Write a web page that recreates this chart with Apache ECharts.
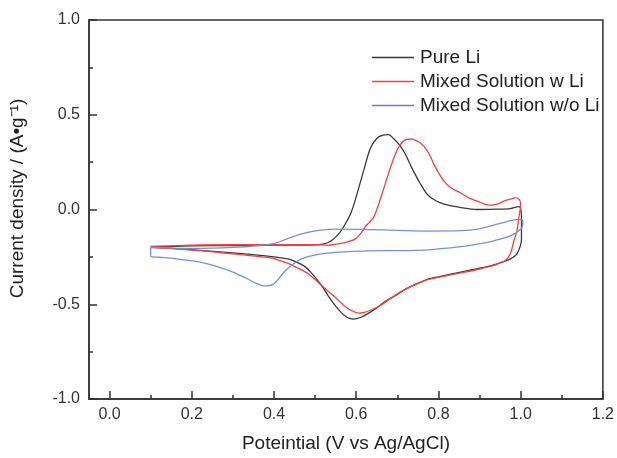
<!DOCTYPE html>
<html>
<head>
<meta charset="UTF-8">
<title>CV curves</title>
<script src="https://cdn.jsdelivr.net/npm/echarts@6/dist/echarts.min.js"></script>
<style>
  html, body { margin: 0; padding: 0; background: #fff; }
  #main { width: 617px; height: 458px; }
</style>
</head>
<body>
<div id="main"></div>
<script>
// tick positions
var xTicks = [0, 0.2, 0.4, 0.6, 0.8, 1.0, 1.2];
var xMinorTicks = [0.1, 0.3, 0.5, 0.7, 0.9, 1.1];

// Pure Li loop
var pureX = [0.10, 0.20, 0.30, 0.40, 0.45, 0.50, 0.533, 0.557, 0.573, 0.589, 0.606, 0.62, 0.634, 0.65, 0.665, 0.678, 0.692, 0.706, 0.72, 0.734, 0.755, 0.774, 0.795, 0.814, 0.85, 0.895, 0.94, 0.975, 0.995, 1.0,
  1.002, 1.002, 0.998, 0.991, 0.98, 0.967, 0.935, 0.90, 0.854, 0.80, 0.774, 0.75, 0.72, 0.695, 0.67, 0.65, 0.63, 0.61, 0.593, 0.578, 0.565, 0.55, 0.533, 0.52, 0.509, 0.493, 0.477, 0.455, 0.437, 0.39, 0.30, 0.22, 0.15, 0.10];
var pureY = [-0.198, -0.192, -0.19, -0.188, -0.188, -0.187, -0.173, -0.13, -0.078, -0.008, 0.113, 0.22, 0.321, 0.375, 0.392, 0.395, 0.372, 0.338, 0.29, 0.225, 0.14, 0.077, 0.045, 0.029, 0.012, 0.0, 0.002, 0.005, 0.015, 0.005,
  -0.05, -0.16, -0.2, -0.234, -0.255, -0.269, -0.292, -0.31, -0.33, -0.355, -0.367, -0.39, -0.42, -0.455, -0.486, -0.52, -0.547, -0.57, -0.578, -0.57, -0.547, -0.51, -0.46, -0.415, -0.382, -0.34, -0.304, -0.278, -0.262, -0.247, -0.229, -0.216, -0.205, -0.198];

// Mixed Solution w Li loop
var withLiX = [0.10, 0.20, 0.30, 0.40, 0.50, 0.533, 0.56, 0.581, 0.598, 0.613, 0.622, 0.632, 0.642, 0.655, 0.666, 0.68, 0.694, 0.706, 0.722, 0.735, 0.742, 0.755, 0.766, 0.778, 0.79, 0.80, 0.814, 0.83, 0.854, 0.875, 0.895, 0.91, 0.927, 0.945, 0.959, 0.975, 0.987, 0.997, 1.0,
  0.995, 0.991, 0.983, 0.975, 0.963, 0.95, 0.935, 0.90, 0.854, 0.80, 0.774, 0.75, 0.72, 0.70, 0.678, 0.658, 0.638, 0.62, 0.606, 0.59, 0.573, 0.555, 0.533, 0.513, 0.493, 0.473, 0.453, 0.433, 0.413, 0.398, 0.37, 0.34, 0.30, 0.26, 0.22, 0.18, 0.14, 0.10];
var withLiY = [-0.195, -0.188, -0.186, -0.186, -0.186, -0.188, -0.18, -0.17, -0.155, -0.121, -0.09, -0.068, -0.043, 0.03, 0.104, 0.2, 0.286, 0.339, 0.37, 0.372, 0.367, 0.352, 0.33, 0.29, 0.234, 0.195, 0.148, 0.115, 0.087, 0.06, 0.044, 0.03, 0.023, 0.03, 0.044, 0.055, 0.061, 0.052, 0.026,
  -0.05, -0.113, -0.17, -0.234, -0.269, -0.282, -0.295, -0.314, -0.335, -0.358, -0.37, -0.39, -0.42, -0.445, -0.477, -0.508, -0.529, -0.543, -0.547, -0.535, -0.512, -0.475, -0.434, -0.395, -0.356, -0.325, -0.304, -0.283, -0.269, -0.258, -0.25, -0.243, -0.234, -0.225, -0.217, -0.21, -0.205, -0.2];

// Mixed Solution w/o Li loop
var withoutLiX = [0.10, 0.15, 0.20, 0.30, 0.365, 0.398, 0.42, 0.45, 0.48, 0.51, 0.55, 0.63, 0.70, 0.774, 0.854, 0.895, 0.935, 0.965, 0.991, 1.005, 1.005, 1.0,
  0.975, 0.935, 0.895, 0.854, 0.774, 0.70, 0.63, 0.549, 0.52, 0.493, 0.47, 0.453, 0.437, 0.421, 0.41, 0.398, 0.381, 0.37, 0.357, 0.33, 0.30, 0.26, 0.22, 0.16, 0.12, 0.10, 0.10];
var withoutLiY = [-0.2, -0.203, -0.205, -0.2, -0.19, -0.18, -0.165, -0.14, -0.122, -0.11, -0.104, -0.106, -0.11, -0.114, -0.112, -0.104, -0.082, -0.065, -0.052, -0.058, -0.08, -0.104,
  -0.139, -0.165, -0.183, -0.196, -0.213, -0.217, -0.218, -0.226, -0.233, -0.243, -0.258, -0.278, -0.305, -0.339, -0.37, -0.395, -0.403, -0.4, -0.39, -0.36, -0.33, -0.3, -0.278, -0.26, -0.252, -0.248, -0.2];

function pairs(xs, ys) {
  var out = [];
  for (var i = 0; i < xs.length; i++) out.push([xs[i], ys[i]]);
  return out;
}

var axisColor = '#333';
var labelFont = 'Liberation Sans, Arial, sans-serif';

var myChart = echarts.init(document.getElementById('main'));
var option = {
  animation: false,
  textStyle: { fontFamily: labelFont },
  grid: {
    left: 88, right: 11, top: 20, bottom: 54,
    show: true, borderColor: axisColor, borderWidth: 1.5
  },
  legend: {
    orient: 'vertical',
    left: 372, top: 48,
    padding: 0,
    icon: 'rect',
    itemWidth: 42, itemHeight: 1.3, itemGap: 5,
    textStyle: { fontSize: 19, lineHeight: 19, color: '#222', padding: [0, 0, 0, 1] },
    data: [
      { name: 'Pure Li' },
      { name: 'Mixed Solution w Li' },
      { name: 'Mixed Solution w/o Li', itemStyle: { color: '#6f70ee' } }
    ]
  },
  xAxis: [{
    type: 'value', min: -0.05, max: 1.2,
    name: 'Poteintial (V vs Ag/AgCl)',
    nameLocation: 'middle', nameGap: 35,
    nameTextStyle: { fontSize: 19, color: '#222' },
    axisLine: { show: true, onZero: false, lineStyle: { color: axisColor, width: 1.5 } },
    axisTick: { show: true, inside: true, length: 8, customValues: xTicks, lineStyle: { color: axisColor, width: 1.5 } },
    axisLabel: { customValues: xTicks, fontSize: 16, color: '#333', margin: 8,
      formatter: function (v) { return v.toFixed(1); } },
    splitLine: { show: false }
  }, {
    type: 'value', min: -0.05, max: 1.2, position: 'bottom',
    axisLine: { show: false, onZero: false },
    axisTick: { show: true, inside: true, length: 4, customValues: xMinorTicks, lineStyle: { color: axisColor, width: 1.5 } },
    axisLabel: { show: false },
    splitLine: { show: false }
  }],
  yAxis: {
    type: 'value', min: -1, max: 1, interval: 0.5,
    name: 'Current density / (A\u2022g\u207B\u00B9)',
    nameLocation: 'middle', nameGap: 62, nameRotate: 90,
    nameTextStyle: { fontSize: 19, color: '#222', padding: [0, 0, 0, 22] },
    axisLine: { show: true, onZero: false, lineStyle: { color: axisColor, width: 1.5 } },
    axisTick: { show: true, inside: true, length: 8, lineStyle: { color: axisColor, width: 1.5 } },
    minorTick: { show: true, splitNumber: 2, length: 4, lineStyle: { color: axisColor, width: 1.5 } },
    axisLabel: { fontSize: 16, color: '#333', margin: 9,
      formatter: function (v) { return v.toFixed(1); } },
    splitLine: { show: false }
  },
  series: [{
    name: 'Pure Li', type: 'line', symbol: 'none', smooth: 0.3,
    lineStyle: { color: '#3a3a3a', width: 1.3 }, itemStyle: { color: '#3a3a3a' },
    data: pairs(pureX, pureY)
  }, {
    name: 'Mixed Solution w Li', type: 'line', symbol: 'none', smooth: 0.3,
    lineStyle: { color: '#ff3b3b', width: 1.3 }, itemStyle: { color: '#ff3b3b' },
    data: pairs(withLiX, withLiY)
  }, {
    name: 'Mixed Solution w/o Li', type: 'line', symbol: 'none', smooth: 0.3,
    lineStyle: { color: '#7293d9', width: 1.3 }, itemStyle: { color: '#7293d9' },
    data: pairs(withoutLiX, withoutLiY)
  }]
};
myChart.setOption(option);
</script>
</body>
</html>
